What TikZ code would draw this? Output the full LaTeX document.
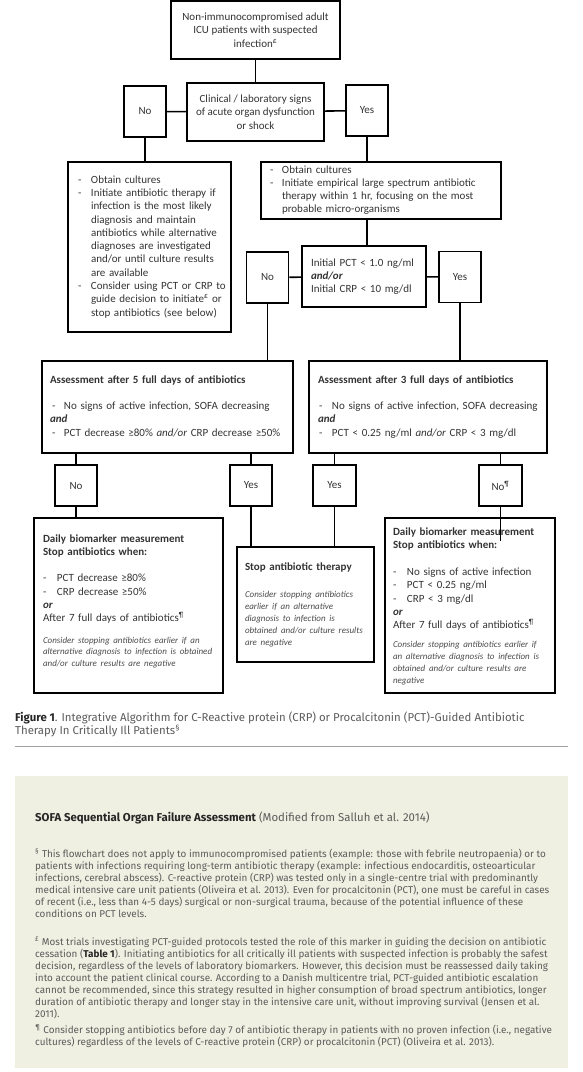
\documentclass[tikz,border=0pt]{standalone}
\usepackage{fontspec}
\setmainfont{Carlito}
\newfontfamily\capfont{Fira Sans}
\usetikzlibrary{positioning}

\definecolor{txtgrey}{HTML}{333333}
\definecolor{italgrey}{HTML}{4A4A4A}
\definecolor{notegreen}{HTML}{EFF0E1}
\definecolor{notegrey}{HTML}{5C5C5C}
\definecolor{rulegrey}{HTML}{A0A0A0}

\newcommand{\remark}[1]{{\fontsize{9}{11.8}\selectfont\itshape\color{italgrey}#1\par}}
\newcommand{\whole}[1]{\multicolumn{2}{@{}l@{}}{#1}}

\begin{document}
\begin{tikzpicture}[x=1pt, y=-1pt, font=\fontsize{11}{13.3}\selectfont]
        \tikzstyle{box} = [draw = black, line width = 1.6pt, text = txtgrey, inner ysep = 0pt]
        \tikzstyle{yn} = [box, minimum width = 42pt, minimum height = 51pt, inner sep = 0pt]
        \tikzstyle{conn} = [line width = 1.6pt]
        \tikzstyle{note} = [anchor = north west, inner sep = 0pt, align = left, text = notegrey,
        font = \capfont\fontsize{9.9}{12}\selectfont]
        \useasboundingbox (0,0) rectangle (583,1072);

        % flowchart, top part
        \node[box, minimum width = 169pt, minimum height = 58pt, align = center] (start) at (255.5,30)
        {Non-immunocompromised adult\\ICU patients with suspected\\infection\textsuperscript{£}};
        \node[box, minimum width = 137pt, minimum height = 58pt, align = center] (signs) at (255.5,112)
        {Clinical / laboratory signs\\of acute organ dysfunction\\or shock};
        \node[yn] (no1) at (145,111.5) {No};
        \node[yn] (yes1) at (367,110.5) {Yes};

        \node[box, text width = 143pt, inner xsep = 10pt, minimum height = 170pt, align = left] (mild) at (149.5,247)
        {\begin{tabular}{@{}p{13pt}@{}l@{}}
        - & Obtain cultures\\
        - & Initiate antibiotic therapy if\\
          & infection is the most likely\\
          & diagnosis and maintain\\
          & antibiotics while alternative\\
          & diagnoses are investigated\\
          & and/or until culture results\\
          & are available\\
        - & Consider using PCT or CRP to\\
          & guide decision to initiate\textsuperscript{£} or\\
          & stop antibiotics (see below)
        \end{tabular}};

        \node[box, text width = 222pt, inner xsep = 9pt, minimum height = 57pt, align = left,
        font = \fontsize{11}{12.8}\selectfont] (severe) at (381,190.5)
        {\begin{tabular}{@{}p{12pt}@{}l@{}}
        - & Obtain cultures\\
        - & Initiate empirical large spectrum antibiotic\\
          & therapy within 1 hr, focusing on the most\\
          & probable micro-organisms
        \end{tabular}};

        \node[box, text width = 106pt, inner xsep = 9pt, minimum height = 61pt, align = left] (pct) at (364,276.5)
        {Initial PCT < 1.0 ng/ml\\\textbf{\textit{and/or}}\\Initial CRP < 10 mg/dl};
        \node[yn] (no2) at (267.5,277.5) {No};
        \node[yn] (yes2) at (460,277) {Yes};

        % assessments
        \node[box, text width = 235pt, inner xsep = 8pt, minimum height = 92pt, align = left] (day5) at (167.5,407)
        {\begin{tabular}{@{}p{14pt}@{}l@{}}
        \whole{\textbf{Assessment after 5 full days of antibiotics}}\\
        \\
        \hspace{2pt}- & No signs of active infection, SOFA decreasing\\
        \whole{\textbf{\textit{and}}}\\
        \hspace{2pt}- & PCT decrease ≥80\% \textit{and/or} CRP decrease ≥50\%
        \end{tabular}};
        \node[box, text width = 220pt, inner xsep = 9pt, minimum height = 92pt, align = left] (day3) at (428,407)
        {\begin{tabular}{@{}p{14pt}@{}l@{}}
        \whole{\textbf{Assessment after 3 full days of antibiotics}}\\
        \\
        \hspace{1pt}- & No signs of active infection, SOFA decreasing\\
        \whole{\textbf{\textit{and}}}\\
        \hspace{1pt}- & PCT < 0.25 ng/ml \textit{and/or} CRP < 3 mg/dl
        \end{tabular}};

        \node[yn, minimum height = 41pt] (no3) at (76,485.5) {No};
        \node[yn, minimum height = 41pt] (yes3) at (251,485.5) {Yes};
        \node[yn, minimum height = 41pt, minimum width = 43pt] (yes4) at (334.5,485.5) {Yes};
        \node[yn, minimum height = 41pt, minimum width = 43pt] (no4) at (500.5,485.5) {No\textsuperscript{¶}};

        % outcomes
        \node[box, text width = 171pt, inner xsep = 9pt, minimum height = 175pt, align = left] (dailyl) at (128.5,605.5)
        {\begin{tabular}{@{}p{14pt}@{}l@{}}
        \whole{\textbf{Daily biomarker measurement}}\\
        \whole{\textbf{Stop antibiotics when:}}\\
        \\
        - & PCT decrease ≥80\%\\
        - & CRP decrease ≥50\%\\
        \whole{\textbf{\textit{or}}}\\
        \whole{After 7 full days of antibiotics\textsuperscript{¶}}
        \end{tabular}\par\vspace{10pt}
        \remark{\mbox{Consider stopping antibiotics earlier if an}\\\mbox{alternative diagnosis to infection is obtained}\\\mbox{and/or culture results are negative}}
        \vspace{10pt}};

        \node[box, text width = 121pt, inner xsep = 8pt, minimum height = 115pt, align = left] (stop) at (305.5,604.5)
        {\vspace*{4pt}\textbf{Stop antibiotic therapy}\par\vspace{12pt}
        \remark{\mbox{Consider stopping antibiotics}\\\mbox{earlier if an alternative}\\\mbox{diagnosis to infection is}\\\mbox{obtained and/or culture results}\\\mbox{are negative}}};

        \node[box, text width = 154pt, inner xsep = 8pt, minimum height = 175pt, align = left] (dailyr) at (470,605.5)
        {\begin{tabular}{@{}p{14pt}@{}l@{}}
        \whole{\textbf{Daily biomarker measurement}}\\
        \whole{\textbf{Stop antibiotics when:}}\\
        \\
        - & No signs of active infection\\
        - & PCT < 0.25 ng/ml\\
        - & CRP < 3 mg/dl\\
        \whole{\textbf{\textit{or}}}\\
        \whole{After 7 full days of antibiotics\textsuperscript{¶}}
        \end{tabular}\par\vspace{8pt}
        \remark{\mbox{Consider stopping antibiotics earlier if}\\\mbox{an alternative diagnosis to infection is}\\\mbox{obtained and/or culture results are}\\\mbox{negative}}};
        \coordinate (noend) at (500.5,541);

        % connectors
        \draw[conn] (start) -- (signs);
        \draw[conn] (signs) -- (no1);
        \draw[conn] (signs) -- (yes1);
        \draw[conn] (no1.south) -- (no1.south |- mild.north);
        \draw[conn] (yes1.south) -- (yes1.south |- severe.north);
        \draw[conn] (yes1.south |- severe.south) -- (yes1.south |- pct.north);
        \draw[conn] (pct) -- (no2);
        \draw[conn] (pct) -- (yes2);
        \draw[conn] (no2.south) -- (no2.south |- day5.north);
        \draw[conn] (yes2.south) -- (yes2.south |- day3.north);
        \draw[conn] (no3.north |- day5.south) -- (no3.north);
        \draw[conn] (yes3.north |- day5.south) -- (yes3.north);
        \draw[conn] (yes4.north |- day3.south) -- (yes4.north);
        \draw[conn] (no4.north |- day3.south) -- (no4.north);
        \draw[conn] (no3.south) -- (no3.south |- dailyl.north);
        \draw[conn] (yes3.south) -- (yes3.south |- stop.north);
        \draw[conn] (yes4.south) -- (yes4.south |- stop.north);
        \draw[conn] (no4.south) -- (noend);

        % caption
        \node[note, font = \capfont\fontsize{11.4}{13}\selectfont] (caption) at (15,712)
        {{\color{black!85}\bfseries Figure 1}. Integrative Algorithm for C-Reactive protein (CRP) or Procalcitonin (PCT)-Guided Antibiotic\\
        Therapy In Critically Ill Patients\textsuperscript{§}};
        \draw[rulegrey, line width = 0.8pt] (15,746) -- (568,746);

        % notes
        \fill[notegreen] (15,776) rectangle (568,1068);
        \node[note, font = \capfont\fontsize{11.4}{13}\selectfont] (sofa) at (35,812)
        {{\color{black!85}\bfseries SOFA Sequential Organ Failure Assessment} (Modified from Salluh et al. 2014)};
        \node[note] (note1) at (35,849)
        {\textsuperscript{§} This flowchart does not apply to immunocompromised patients (example: those with febrile neutropaenia) or to\\
        patients with infections requiring long-term antibiotic therapy (example: infectious endocarditis, osteoarticular\\
        infections, cerebral abscess). C-reactive protein (CRP) was tested only in a single-centre trial with predominantly\\
        medical intensive care unit patients (Oliveira et al. 2013). Even for procalcitonin (PCT), one must be careful in cases\\
        of recent (i.e., less than 4-5 days) surgical or non-surgical trauma, because of the potential influence of these\\
        conditions on PCT levels.};
        \node[note] (note2) at (35,937)
        {\textsuperscript{£} Most trials investigating PCT-guided protocols tested the role of this marker in guiding the decision on antibiotic\\
        cessation ({\color{black!85}\bfseries Table 1}). Initiating antibiotics for all critically ill patients with suspected infection is probably the safest\\
        decision, regardless of the levels of laboratory biomarkers. However, this decision must be reassessed daily taking\\
        into account the patient clinical course. According to a Danish multicentre trial, PCT-guided antibiotic escalation\\
        cannot be recommended, since this strategy resulted in higher consumption of broad spectrum antibiotics, longer\\
        duration of antibiotic therapy and longer stay in the intensive care unit, without improving survival (Jensen et al.\\
        2011).};
        \node[note] (note3) at (35,1025)
        {\textsuperscript{¶} Consider stopping antibiotics before day 7 of antibiotic therapy in patients with no proven infection (i.e., negative\\
        cultures) regardless of the levels of C-reactive protein (CRP) or procalcitonin (PCT) (Oliveira et al. 2013).};
      \end{tikzpicture}
\end{document}
